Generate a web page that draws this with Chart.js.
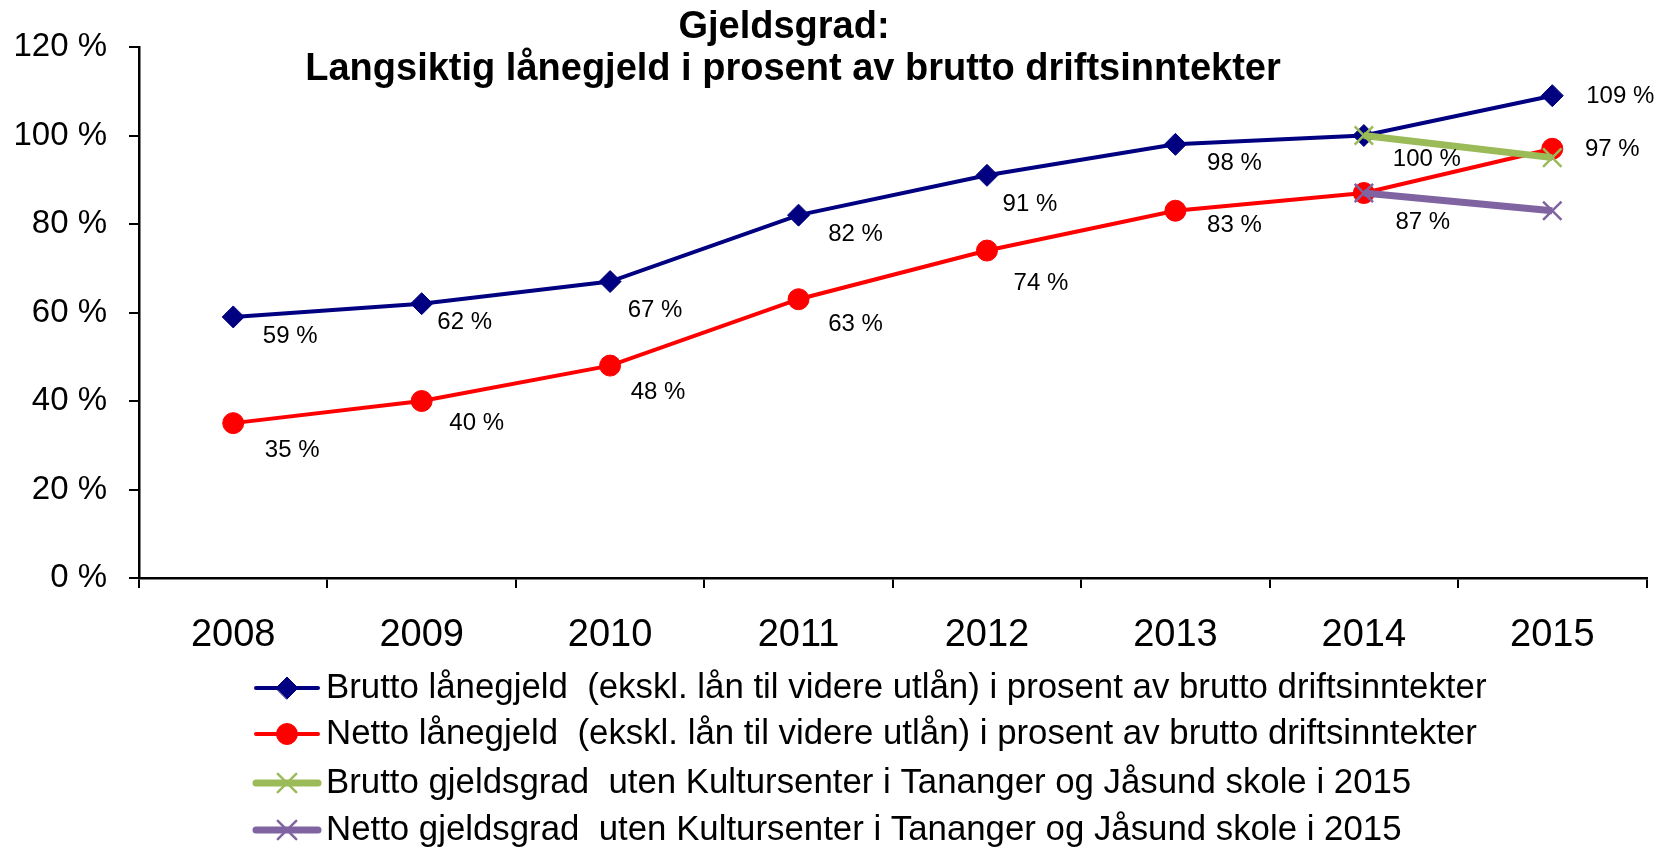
<!DOCTYPE html>
<html>
<head>
<meta charset="utf-8">
<script src="https://cdn.jsdelivr.net/npm/chart.js@4/dist/chart.umd.min.js"></script>
<style>
  body { margin: 0; background: #fff; }
  #wrap { width: 1662px; height: 850px; }
</style>
</head>
<body>
<div id="wrap"><canvas id="gjeldChart"></canvas></div>
<script>
// Data
const years = ['2008', '2009', '2010', '2011', '2012', '2013', '2014', '2015'];
const bruttoGjeld = [59, 62, 67, 82, 91, 98, 100, 109];
const nettoGjeld = [35, 40, 48, 63, 74, 83, 87, 97];
const bruttoUtenKultur = [null, null, null, null, null, null, 100, 95];
const nettoUtenKultur = [null, null, null, null, null, null, 87, 83];
const yTicks = [0, 20, 40, 60, 80, 100, 120];

const seriesNames = [
    'Brutto lånegjeld  (ekskl. lån til videre utlån) i prosent av brutto driftsinntekter',
    'Netto lånegjeld  (ekskl. lån til videre utlån) i prosent av brutto driftsinntekter',
    'Brutto gjeldsgrad  uten Kultursenter i Tananger og Jåsund skole i 2015',
    'Netto gjeldsgrad  uten Kultursenter i Tananger og Jåsund skole i 2015'
];
const titleLines = ['Gjeldsgrad:', 'Langsiktig lånegjeld i prosent av brutto driftsinntekter'];

// label placement (px offset from the point) for the two main series
const labelShift = [
    [[57, 19], [43, 19], [45, 29], [57, 19], [43, 29], [59, 19], [63, 24], [68, 1]],
    [[59, 27], [55, 22], [48, 27], [57, 25], [54, 33], [59, 15], [59, 29], [60, 1]]
];

const FONT = '"Liberation Sans", Arial, sans-serif';
Chart.defaults.font.family = FONT;
Chart.defaults.color = '#000';

// Titles, data labels and the legend drawn on the canvas
const overlay = {
    id: 'overlay',
    afterDatasetsDraw(chart) {
        const ctx = chart.ctx;
        ctx.save();
        ctx.fillStyle = '#000';

        // data labels
        ctx.font = '24px ' + FONT;
        ctx.textAlign = 'center';
        ctx.textBaseline = 'middle';
        [0, 1].forEach(i => {
            const meta = chart.getDatasetMeta(i);
            meta.data.forEach((pt, j) => {
                const v = chart.data.datasets[i].data[j];
                const s = labelShift[i][j];
                ctx.fillText(v + ' %', pt.x + s[0], pt.y + s[1]);
            });
        });

        // title
        ctx.font = 'bold 38px ' + FONT;
        ctx.textBaseline = 'alphabetic';
        ctx.fillText(titleLines[0], 784, 38);
        ctx.fillText(titleLines[1], 793, 80);

        // legend
        ctx.font = '34.8px ' + FONT;
        ctx.textAlign = 'left';
        ctx.textBaseline = 'middle';
        const rows = [688, 734, 783, 830];
        chart.data.datasets.forEach((ds, i) => {
            const y = rows[i];
            ctx.strokeStyle = ds.borderColor;
            ctx.fillStyle = ds.pointBackgroundColor;
            ctx.lineWidth = ds.borderWidth;
            ctx.lineCap = 'round';
            ctx.beginPath();
            ctx.moveTo(256, y);
            ctx.lineTo(318, y);
            ctx.stroke();
            ctx.lineWidth = ds.pointBorderWidth;
            ctx.strokeStyle = ds.pointBorderColor;
            Chart.helpers.drawPoint(ctx, {
                pointStyle: ds.pointStyle,
                radius: ds.pointRadius,
                rotation: 0,
                borderWidth: ds.pointBorderWidth
            }, 287, y);
            ctx.fillStyle = '#000';
            ctx.fillText(seriesNames[i], 326, y);
        });
        ctx.restore();
    }
};

const ctx = document.getElementById('gjeldChart').getContext('2d');
new Chart(ctx, {
    type: 'line',
    data: {
        labels: years,
        datasets: [{
            label: seriesNames[0],
            data: bruttoGjeld,
            borderColor: '#000080',
            backgroundColor: '#000080',
            pointBackgroundColor: '#000080',
            pointBorderColor: '#000080',
            pointBorderWidth: 1,
            borderWidth: 4,
            pointStyle: 'rectRot',
            pointRadius: 11,
            tension: 0,
            order: 4
        }, {
            label: seriesNames[1],
            data: nettoGjeld,
            borderColor: '#ff0000',
            backgroundColor: '#ff0000',
            pointBackgroundColor: '#ff0000',
            pointBorderColor: '#ff0000',
            pointBorderWidth: 1,
            borderWidth: 4,
            pointStyle: 'circle',
            pointRadius: 10.5,
            tension: 0,
            order: 3
        }, {
            label: seriesNames[2],
            data: bruttoUtenKultur,
            borderColor: '#9bbb59',
            backgroundColor: '#9bbb59',
            pointBackgroundColor: '#9bbb59',
            pointBorderColor: '#9bbb59',
            pointBorderWidth: 2.5,
            borderWidth: 7,
            pointStyle: 'crossRot',
            pointRadius: 13,
            tension: 0,
            order: 2
        }, {
            label: seriesNames[3],
            data: nettoUtenKultur,
            borderColor: '#8064a2',
            backgroundColor: '#8064a2',
            pointBackgroundColor: '#8064a2',
            pointBorderColor: '#8064a2',
            pointBorderWidth: 2.5,
            borderWidth: 7,
            pointStyle: 'crossRot',
            pointRadius: 13,
            tension: 0,
            order: 1
        }]
    },
    options: {
        responsive: true,
        maintainAspectRatio: false,
        devicePixelRatio: 1,
        animation: false,
        layout: {
            padding: { left: 0, right: 14, top: 47, bottom: 0 }
        },
        scales: {
            x: {
                offset: true,
                grid: {
                    offset: true,
                    drawOnChartArea: false,
                    drawTicks: true,
                    tickLength: 10,
                    color: '#000',
                    lineWidth: 2
                },
                border: { display: true, color: '#000', width: 2.5 },
                ticks: {
                    font: { size: 38 },
                    padding: 25,
                    maxRotation: 0
                },
                afterFit: function(scale) {
                    scale.height = 272;
                }
            },
            y: {
                min: 0,
                max: 120,
                afterBuildTicks: function(scale) {
                    scale.ticks = yTicks.map(v => ({ value: v }));
                },
                grid: {
                    drawOnChartArea: false,
                    drawTicks: true,
                    tickLength: 10,
                    color: '#000',
                    lineWidth: 2
                },
                border: { display: true, color: '#000', width: 2.5 },
                ticks: {
                    font: { size: 33 },
                    padding: 22,
                    callback: function(value) {
                        return value + ' %';
                    }
                },
                afterFit: function(scale) {
                    scale.width = 139;
                }
            }
        },
        plugins: {
            legend: { display: false },
            title: { display: false },
            tooltip: { enabled: false }
        }
    },
    plugins: [overlay]
});
</script>
</body>
</html>
